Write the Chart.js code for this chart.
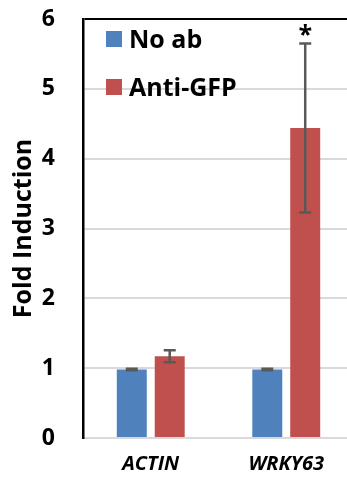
<!DOCTYPE html>
<html>
<head>
<meta charset="utf-8">
<script src="https://cdn.jsdelivr.net/npm/chart.js@4.4.1/dist/chart.umd.min.js"></script>
<style>
  html, body { margin: 0; padding: 0; background: #fff; overflow: hidden; width: 347px; height: 479px; }
  #wrap { position: relative; width: 354px; height: 479px; }
</style>
</head>
<body>
<div id="wrap"><canvas id="c" width="354" height="479"></canvas></div>
<script>
const categories = ['ACTIN', 'WRKY63'];
const seriesNames = ['No ab', 'Anti-GFP'];
const noAbValues = [0.98, 0.98];
const noAbErrors = [0.01, 0.01];
const antiGfpValues = [1.17, 4.44];
const antiGfpErrors = [0.085, 1.21];
const antiGfpMarks = ['', '*'];
const yTicks = [0, 1, 2, 3, 4, 5, 6];
const yTitle = 'Fold Induction';

const FONT = '"Open Sans", "Noto Sans", sans-serif';

const errorPlugin = {
  id: 'errorBars',
  afterDatasetsDraw(chart) {
    const ctx = chart.ctx;
    const y = chart.scales.y;
    chart.data.datasets.forEach((ds, i) => {
      const meta = chart.getDatasetMeta(i);
      meta.data.forEach((bar, j) => {
        const v = ds.data[j], e = ds.errors[j];
        const yt = y.getPixelForValue(v + e);
        const yb = y.getPixelForValue(v - e);
        ctx.save();
        ctx.strokeStyle = '#595959';
        ctx.lineWidth = 2.5;
        ctx.beginPath();
        ctx.moveTo(bar.x, yt); ctx.lineTo(bar.x, yb);
        ctx.moveTo(bar.x - 6, yt); ctx.lineTo(bar.x + 6, yt);
        ctx.moveTo(bar.x - 6, yb); ctx.lineTo(bar.x + 6, yb);
        ctx.stroke();
        if (ds.marks && ds.marks[j]) {
          ctx.fillStyle = '#000';
          ctx.font = 'bold 25px ' + FONT;
          ctx.textAlign = 'center';
          ctx.textBaseline = 'alphabetic';
          ctx.fillText(ds.marks[j], bar.x, yt);
        }
        ctx.restore();
      });
    });
  }
};

const legendPlugin = {
  id: 'insideLegend',
  afterDraw(chart) {
    const ctx = chart.ctx;
    const left = chart.chartArea.left + 23;
    const tops = [31, 79];
    chart.data.datasets.forEach((ds, i) => {
      ctx.save();
      ctx.fillStyle = ds.backgroundColor;
      ctx.fillRect(left, tops[i], 16, 16);
      ctx.fillStyle = '#000';
      ctx.font = 'bold 25px ' + FONT;
      ctx.textBaseline = 'alphabetic';
      ctx.textAlign = 'left';
      ctx.fillText(ds.label, left + 23, tops[i] + 16.5);
      ctx.restore();
    });
  }
};

new Chart(document.getElementById('c'), {
  type: 'bar',
  data: {
    labels: categories,
    datasets: [
      { label: seriesNames[0], data: noAbValues, errors: noAbErrors, backgroundColor: '#4f81bd',
        categoryPercentage: 0.56, barPercentage: 0.79 },
      { label: seriesNames[1], data: antiGfpValues, errors: antiGfpErrors, marks: antiGfpMarks, backgroundColor: '#c0504d',
        categoryPercentage: 0.56, barPercentage: 0.79 }
    ]
  },
  options: {
    responsive: false,
    devicePixelRatio: 1,
    animation: false,
    layout: { padding: { top: 19, right: 0, left: 0, bottom: 0 } },
    plugins: { legend: { display: false }, tooltip: { enabled: false } },
    scales: {
      x: {
        grid: { display: false, drawTicks: false },
        border: { display: true, color: '#d9d9d9', width: 2 },
        ticks: { color: '#000', padding: 14, font: { family: FONT, size: 20, weight: 'bold', style: 'italic' } },
        afterFit(s) { s.height = 41; s.paddingLeft = 0; s.paddingRight = 0; }
      },
      y: {
        min: 0, max: 6,
        afterBuildTicks(s) { s.ticks = yTicks.map(v => ({ value: v })); },
        grid: {
          drawTicks: false,
          color: c => (c.tick && c.tick.value === 6) ? '#000' : '#d9d9d9',
          lineWidth: 2
        },
        border: { display: true, color: '#000', width: 2.5 },
        ticks: { color: '#000', padding: 28, font: { family: FONT, size: 23, weight: 'bold' } },
        title: { display: true, text: yTitle, color: '#000', padding: { top: 9, bottom: 0 },
                 font: { family: FONT, size: 25, weight: 'bold' } },
        afterFit(s) { s.width = 83; s.paddingTop = 0; s.paddingBottom = 0; }
      }
    }
  },
  plugins: [errorPlugin, legendPlugin]
});
</script>
</body>
</html>
